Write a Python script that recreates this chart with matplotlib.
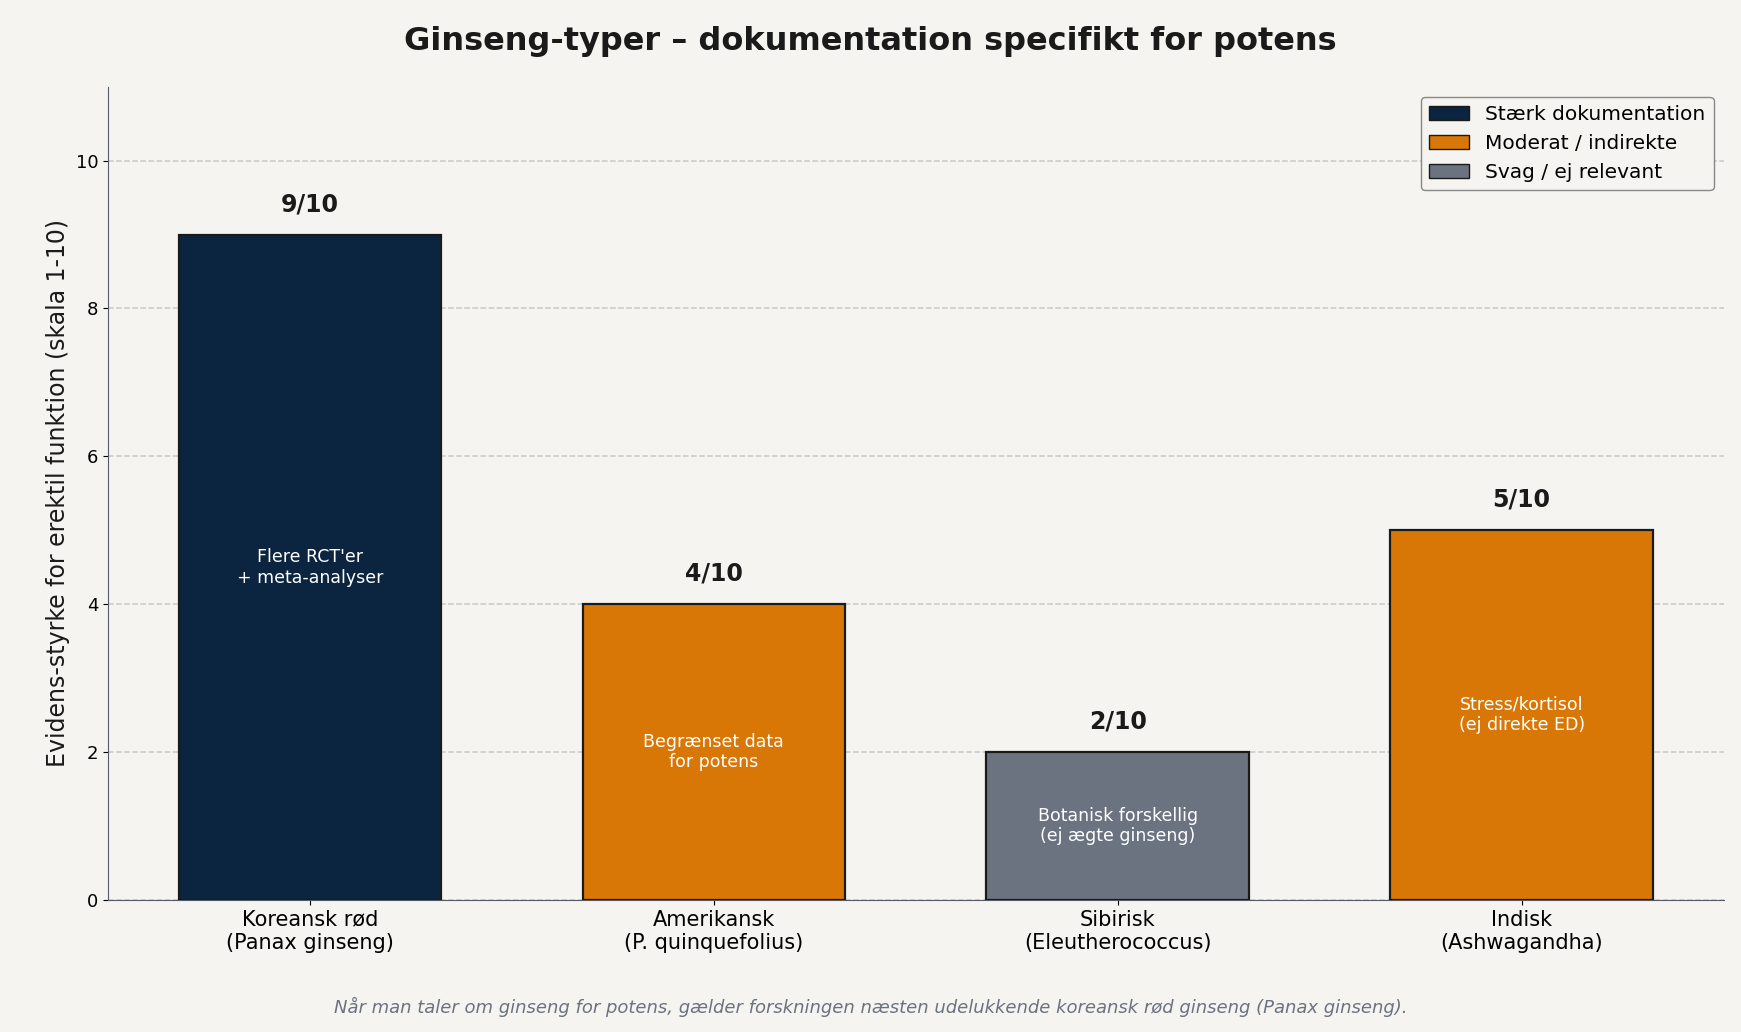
import matplotlib
matplotlib.use("Agg")
import matplotlib.pyplot as plt
from matplotlib.patches import Patch

categories = ["Koreansk rød\n(Panax ginseng)", "Amerikansk\n(P. quinquefolius)", "Sibirisk\n(Eleutherococcus)", "Indisk\n(Ashwagandha)"]
scores = [9, 4, 2, 5]
inner_labels = ["Flere RCT'er\n+ meta-analyser", "Begrænset data\nfor potens", "Botanisk forskellig\n(ej ægte ginseng)", "Stress/kortisol\n(ej direkte ED)"]
colors = ["#0b2540", "#d97706", "#6b7280", "#d97706"]
legend_labels = ["Stærk dokumentation", "Moderat / indirekte", "Svag / ej relevant"]
legend_colors = ["#0b2540", "#d97706", "#6b7280"]

bg = "#f5f4f0"
fig = plt.figure(figsize=(17.41, 10.32), dpi=100, facecolor=bg)
ax = fig.add_axes([0.062, 0.128, 0.928, 0.788], facecolor=bg)
x = range(len(categories))
bars = ax.bar(x, scores, width=0.65, color=colors, edgecolor="#1a1a1a", linewidth=1.6, zorder=3)
for i, (s, t) in enumerate(zip(scores, inner_labels)):
    ax.text(i, s + 0.25, f"{s}/10", ha="center", va="bottom", fontsize=17, fontweight="bold", color="#1a1a1a")
    ax.text(i, s / 2, t, ha="center", va="center", fontsize=12.5, color="white")
ax.set_ylim(0, 11)
ax.set_xlim(-0.5, 3.5)
ax.set_yticks([0, 2, 4, 6, 8, 10])
ax.set_xticks(list(x))
ax.set_xticklabels(categories, fontsize=15)
ax.tick_params(axis="y", labelsize=13)
ax.yaxis.grid(True, linestyle="--", color="#c8c8c8", linewidth=1.1, zorder=0)
ax.set_axisbelow(True)
for s in ["top", "right"]:
    ax.spines[s].set_visible(False)
for s in ["left", "bottom"]:
    ax.spines[s].set_color("#555b66")
ax.set_ylabel("Evidens-styrke for erektil funktion (skala 1-10)", fontsize=17, color="#1a1a1a")
fig.suptitle("Ginseng-typer – dokumentation specifikt for potens", fontsize=23, fontweight="bold", y=0.975, color="#1a1a1a")
handles = [Patch(facecolor=c, edgecolor="#1a1a1a", label=l) for c, l in zip(legend_colors, legend_labels)]
ax.legend(handles=handles, loc="upper right", fontsize=14.5, facecolor=bg, edgecolor="#888888", framealpha=1)
fig.text(0.5, 0.018, "Når man taler om ginseng for potens, gælder forskningen næsten udelukkende koreansk rød ginseng (Panax ginseng).",
         ha="center", fontsize=13, style="italic", color="#6b7280")
fig.savefig("out.png", dpi=100, facecolor=bg)
